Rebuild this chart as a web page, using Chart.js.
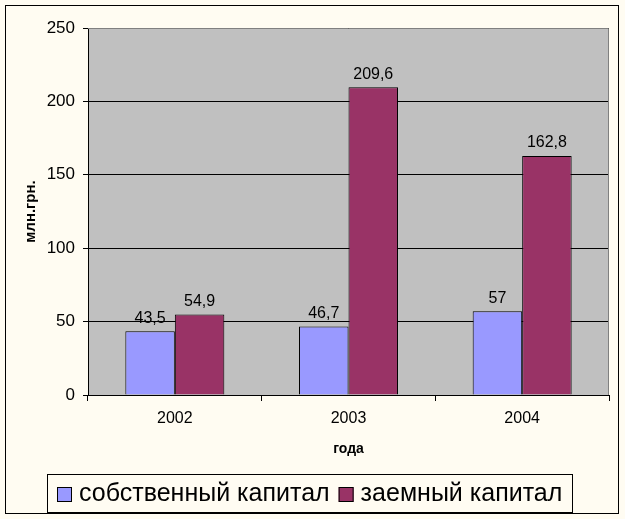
<!DOCTYPE html>
<html>
<head>
<meta charset="utf-8">
<script src="https://cdn.jsdelivr.net/npm/chart.js@4/dist/chart.umd.min.js"></script>
<style>
  html, body { margin: 0; padding: 0; background: #FFFCF2; }
  #wrap { width: 625px; height: 519px; }
</style>
</head>
<body>
<div id="wrap"><canvas id="chart" width="625" height="519"></canvas></div>
<script>
// data
var years = ['2002', '2003', '2004'];
var own_capital = [43.5, 46.7, 57];
var borrowed_capital = [54.9, 209.6, 162.8];
var series_names = ['собственный капитал', 'заемный капитал'];

var FONT = "Arial, 'Liberation Sans', sans-serif";

function fmt(v){
	return String(v).replace('.', ',');
}

// background, outer frame and plot area
var framePlugin = {
	id: 'frame',
	beforeDraw: function(chart){
		var ctx = chart.ctx;
		var a = chart.chartArea;
		ctx.save();
		ctx.fillStyle = '#FFFCF2';
		ctx.fillRect(0, 0, chart.width, chart.height);
		ctx.strokeStyle = '#000';
		ctx.lineWidth = 1;
		ctx.strokeRect(5.5, 5.5, 613, 508);
		ctx.fillStyle = '#C0C0C0';
		ctx.fillRect(a.left, a.top, a.right - a.left, a.bottom - a.top);
		ctx.restore();
	},
	afterDatasetsDraw: function(chart){
		var ctx = chart.ctx;
		var a = chart.chartArea;
		ctx.save();
		// grey top/right edge of plot
		ctx.strokeStyle = '#808080';
		ctx.lineWidth = 1;
		ctx.beginPath();
		ctx.moveTo(a.left, a.top + 0.5);
		ctx.lineTo(a.right - 0.5, a.top + 0.5);
		ctx.lineTo(a.right - 0.5, a.bottom);
		ctx.stroke();

		// value labels
		ctx.fillStyle = '#000';
		ctx.font = '16px ' + FONT;
		ctx.textAlign = 'center';
		ctx.textBaseline = 'bottom';
		chart.data.datasets.forEach(function(ds, i){
			var meta = chart.getDatasetMeta(i);
			meta.data.forEach(function(bar, j){
				ctx.fillText(fmt(ds.data[j]), bar.x, bar.y - 5);
			});
		});

		// legend
		var lx = 47, ly = 474, lw = 525, lh = 38;
		ctx.strokeStyle = '#000';
		ctx.strokeRect(lx + 0.5, ly + 0.5, lw, lh);
		ctx.font = '25px ' + FONT;
		ctx.textAlign = 'left';
		ctx.textBaseline = 'middle';
		var x = 57, cy = ly + lh / 2 + 1;
		chart.data.datasets.forEach(function(ds){
			ctx.fillStyle = ds.backgroundColor;
			ctx.fillRect(x, cy - 7, 15, 15);
			ctx.strokeStyle = '#000';
			ctx.strokeRect(x + 0.5, cy - 7 + 0.5, 14, 14);
			ctx.fillStyle = '#000';
			ctx.fillText(ds.label, x + 22, cy);
			x += 22 + ctx.measureText(ds.label).width + 9;
		});
		ctx.restore();
	}
};

var config = {
	type: 'bar',
	data: {
		labels: years,
		datasets: [
			{
				label: series_names[0],
				data: own_capital,
				backgroundColor: '#9999FF',
				borderColor: '#000',
				borderWidth: 1,
				borderSkipped: 'bottom'
			},
			{
				label: series_names[1],
				data: borrowed_capital,
				backgroundColor: '#993366',
				borderColor: '#000',
				borderWidth: 1,
				borderSkipped: 'bottom'
			}
		]
	},
	options: {
		responsive: false,
		animation: false,
		layout: { padding: { left: 18, top: 28, right: 16, bottom: 54 } },
		datasets: {
			bar: { categoryPercentage: 0.57, barPercentage: 1 }
		},
		plugins: {
			legend: { display: false },
			tooltip: { enabled: false }
		},
		scales: {
			x: {
				offset: true,
				grid: {
					offset: true,
					drawOnChartArea: false,
					color: '#000',
					tickColor: '#000',
					tickLength: 6
				},
				border: { color: '#000' },
				ticks: { color: '#000', font: { family: FONT, size: 16 }, padding: 8 },
				title: {
					display: true,
					text: 'года',
					color: '#000',
					font: { family: FONT, size: 14, weight: 'bold' },
					padding: { top: 8, bottom: 7 }
				},
				afterFit: function(scale){ scale.height = 70; }
			},
			y: {
				min: 0,
				max: 250,
				ticks: { stepSize: 50, color: '#000', font: { family: FONT, size: 17 }, padding: 8 },
				grid: { color: '#000', tickColor: '#000', tickLength: 5 },
				border: { color: '#000' },
				title: {
					display: true,
					text: 'млн.грн.',
					color: '#000',
					font: { family: FONT, size: 15, weight: 'bold' }
				},
				afterFit: function(scale){ scale.width = 70; }
			}
		}
	},
	plugins: [framePlugin]
};

var chart = new Chart(document.getElementById('chart'), config);
</script>
</body>
</html>
